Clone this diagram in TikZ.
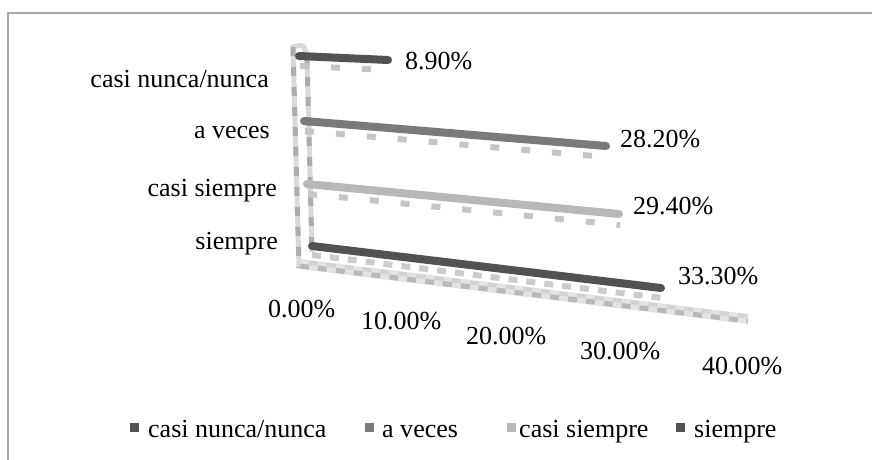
\documentclass[tikz,border=0pt]{standalone}
\usepackage{fontspec}
\setmainfont{Liberation Serif}
\begin{document}
\begin{tikzpicture}[x=1pt,y=-1pt,
  lbl/.style={inner sep=0pt,font=\fontsize{26}{30}\selectfont},
  barline/.style={line width=8pt,line cap=round},
  tickrow/.style={line width=6pt,dash pattern=on 9pt off 22pt},
  pillar/.style={line width=5pt,draw=gray!30},
  pillardash/.style={line width=5pt,draw=gray!65,dash pattern=on 9pt off 11pt},
  legsq/.style={inner sep=0pt,minimum size=9pt,draw=none}]
\useasboundingbox (0,0) rectangle (872,460);
% frame
\coordinate (fa) at (8,460);
\coordinate (fb) at (8,13);
\coordinate (fc) at (872,13);
\draw[gray!70,line width=2pt] (fa) -- (fb) -- (fc);

% pillars (back wall)
\coordinate (p1t) at (293,47);
\coordinate (p1b) at (299,268);
\coordinate (p2t) at (307,57);
\coordinate (p2b) at (312,252);
\coordinate (pc) at (304,44);
\draw[pillar] (p1b) -- (p1t) .. controls (pc) .. (p2t) -- (p2b);
\draw[pillardash] (p1t) -- (p1b);
\draw[pillardash] (p2t) -- (p2b);

% floor
\coordinate (f1) at (300,264);
\coordinate (f2) at (748,319);
\draw[line width=10pt,gray!22] (f1) -- (f2);
\draw[line width=5pt,gray!55,dash pattern=on 9pt off 9pt,transform canvas={yshift=-2pt}] (f1) -- (f2);
\draw[line width=4pt,gray!35,dash pattern=on 9pt off 9pt,dash phase=9pt,transform canvas={yshift=2.5pt}] (f1) -- (f2);

% tick rows under bars
\coordinate (t1a) at (300,66);  \coordinate (t1b) at (388,70);
\coordinate (t2a) at (305,131); \coordinate (t2b) at (606,157);
\coordinate (t3a) at (308,194); \coordinate (t3b) at (620,225);
\coordinate (t4a) at (312,255); \coordinate (t4b) at (662,298);
\draw[tickrow,gray!45] (t1a) -- (t1b);
\draw[tickrow,gray!45] (t2a) -- (t2b);
\draw[tickrow,gray!45] (t3a) -- (t3b);
\draw[tickrow,gray!40,dash pattern=on 9pt off 9pt] (t4a) -- (t4b);

% bars
\coordinate (b1a) at (299,56);  \coordinate (b1b) at (388,60);
\coordinate (b2a) at (304,121); \coordinate (b2b) at (606,146);
\coordinate (b3a) at (307,184); \coordinate (b3b) at (619,214);
\coordinate (b4a) at (312,246); \coordinate (b4b) at (661,288);
\draw[barline,draw=black!68] (b1a) -- (b1b);
\draw[barline,draw=black!52] (b2a) -- (b2b);
\draw[barline,draw=black!28] (b3a) -- (b3b);
\draw[barline,draw=black!68] (b4a) -- (b4b);

% category labels
\node[lbl,anchor=base east] (c1) at (269,87) {casi nunca/nunca};
\node[lbl,anchor=base east] (c2) at (270,138) {a veces};
\node[lbl,anchor=base east] (c3) at (277,196) {casi siempre};
\node[lbl,anchor=base east] (c4) at (278,249) {siempre};

% value labels
\node[lbl,anchor=base west] (v1) at (405,70) {8.90\%};
\node[lbl,anchor=base west] (v2) at (620,147) {28.20\%};
\node[lbl,anchor=base west] (v3) at (633,214) {29.40\%};
\node[lbl,anchor=base west] (v4) at (678,284) {33.30\%};

% axis labels
\node[lbl,anchor=base west] (x0) at (268,317) {0.00\%};
\node[lbl,anchor=base west] (x1) at (361,329) {10.00\%};
\node[lbl,anchor=base west] (x2) at (466,344) {20.00\%};
\node[lbl,anchor=base west] (x3) at (580,359) {30.00\%};
\node[lbl,anchor=base west] (x4) at (702,374) {40.00\%};

% legend
\node[legsq,fill=black!68,anchor=north west] (s1) at (130,423) {};
\node[lbl,anchor=base west] (l1) at (148,437) {casi nunca/nunca};
\node[legsq,fill=black!52,anchor=north west] (s2) at (365,423) {};
\node[lbl,anchor=base west] (l2) at (382,437) {a veces};
\node[legsq,fill=black!28,anchor=north west] (s3) at (507,423) {};
\node[lbl,anchor=base west] (l3) at (519,437) {casi siempre};
\node[legsq,fill=black!68,anchor=north west] (s4) at (676,423) {};
\node[lbl,anchor=base west] (l4) at (694,437) {siempre};
\end{tikzpicture}
\end{document}
